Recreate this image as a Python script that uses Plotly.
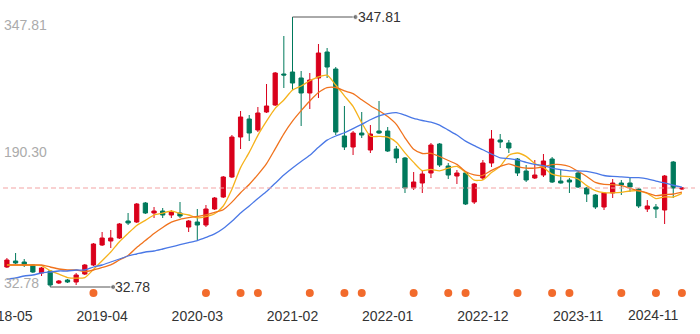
import plotly.graph_objects as go

# ---------------- data ----------------
months = [
    "2018-05", "2018-06", "2018-07", "2018-08", "2018-09", "2018-10", "2018-11", "2018-12",
    "2019-01", "2019-02", "2019-03", "2019-04", "2019-05", "2019-06", "2019-07", "2019-08",
    "2019-09", "2019-10", "2019-11", "2019-12", "2020-01", "2020-02", "2020-03", "2020-04",
    "2020-05", "2020-06", "2020-07", "2020-08", "2020-09", "2020-10", "2020-11", "2020-12",
    "2021-01", "2021-02", "2021-03", "2021-04", "2021-05", "2021-06", "2021-07", "2021-08",
    "2021-09", "2021-10", "2021-11", "2021-12", "2022-01", "2022-02", "2022-03", "2022-04",
    "2022-05", "2022-06", "2022-07", "2022-08", "2022-09", "2022-10", "2022-11", "2022-12",
    "2023-01", "2023-02", "2023-03", "2023-04", "2023-05", "2023-06", "2023-07", "2023-08",
    "2023-09", "2023-10", "2023-11", "2023-12", "2024-01", "2024-02", "2024-03", "2024-04",
    "2024-05", "2024-06", "2024-07", "2024-08", "2024-09", "2024-10", "2024-11",
]

open_ = [56.11, 63.11, 61.95, 58.45, 49.11, 51.45, 37.44, 40.95, 38.61, 47.95,
         58.45, 81.78, 86.45, 89.95, 109.79, 108.62, 130.79, 119.12, 121.45, 116.79,
         119.12, 102.78, 108.62, 105.12, 123.79, 137.79, 161.13, 207.79, 228.80, 215.96,
         236.97, 245.13, 281.30, 283.64, 276.64, 259.13, 276.64, 306.97, 287.14, 208.96,
         196.13, 212.46, 192.63, 214.80, 214.80, 193.79, 183.29, 148.29, 154.13, 165.79,
         199.63, 173.96, 162.29, 165.79, 131.95, 159.96, 177.46, 204.29, 200.79, 182.13,
         168.13, 159.96, 163.46, 182.13, 156.46, 157.63, 165.79, 148.29, 140.12, 126.12,
         142.46, 154.13, 154.13, 147.13, 123.79, 126.12, 122.62, 178.63, 147.13]
high = [66.61, 72.45, 65.45, 59.61, 56.11, 52.61, 40.95, 42.11, 49.11, 59.61,
        84.12, 96.95, 99.28, 107.45, 119.12, 130.79, 131.95, 126.12, 124.95, 122.62,
        131.95, 110.95, 123.79, 128.45, 137.79, 162.29, 210.13, 238.13, 233.46, 242.80,
        269.64, 283.64, 325.64, 347.81, 284.80, 282.47, 316.31, 311.64, 289.47, 243.97,
        214.80, 236.97, 221.80, 249.80, 219.46, 197.29, 184.46, 166.96, 169.29, 200.79,
        200.79, 177.46, 169.29, 166.96, 154.13, 180.96, 215.96, 211.30, 204.29, 183.29,
        175.13, 180.96, 187.96, 184.46, 169.29, 159.96, 166.96, 149.46, 141.29, 143.62,
        158.79, 157.63, 159.96, 148.29, 134.29, 129.62, 163.46, 179.80, 149.46]
low = [54.95, 59.61, 56.11, 49.11, 45.61, 32.78, 36.28, 37.44, 35.11, 46.78,
       57.28, 80.62, 78.28, 88.78, 105.12, 107.45, 117.95, 113.29, 113.29, 113.29,
       113.29, 96.95, 87.62, 102.78, 122.62, 136.62, 159.96, 193.79, 203.13, 213.63,
       235.80, 243.97, 264.97, 262.64, 220.63, 240.47, 253.30, 276.64, 210.13, 192.63,
       186.80, 206.63, 189.13, 211.30, 190.30, 177.46, 142.46, 145.96, 142.46, 159.96,
       172.79, 158.79, 152.96, 128.45, 129.62, 157.63, 172.79, 194.96, 189.13, 162.29,
       155.29, 158.79, 161.13, 154.13, 153.50, 142.46, 148.29, 131.95, 123.79, 122.62,
       136.62, 140.12, 143.62, 124.95, 120.29, 113.29, 106.29, 136.62, 145.96]
close = [64.28, 60.78, 58.45, 50.28, 54.95, 35.11, 39.78, 38.61, 46.78, 58.45,
         82.95, 89.95, 89.95, 106.29, 107.45, 129.62, 119.12, 121.45, 116.79, 120.29,
         115.62, 109.79, 105.12, 123.79, 136.62, 161.13, 207.79, 231.13, 212.46, 235.80,
         243.97, 282.47, 280.14, 270.80, 259.13, 274.30, 305.81, 289.47, 213.63, 196.13,
         212.46, 210.13, 211.30, 212.46, 191.46, 183.29, 148.29, 155.29, 164.63, 198.46,
         175.13, 163.46, 165.79, 129.62, 152.96, 177.46, 205.46, 201.96, 194.96, 165.79,
         157.63, 163.46, 179.80, 155.29, 154.13, 155.29, 149.46, 141.29, 126.12, 142.46,
         154.13, 151.79, 149.46, 127.29, 127.29, 123.79, 162.29, 148.29, 148.29]

ma5 = [58.45, 58.45, 58.45, 58.45, 57.75, 51.91, 47.71, 43.75, 43.05, 43.75,
       53.31, 63.35, 73.62, 85.52, 95.32, 104.65, 110.49, 116.79, 118.89, 121.45,
       118.65, 116.79, 113.52, 114.92, 118.19, 127.29, 146.89, 172.09, 189.83, 209.66,
       226.23, 241.17, 250.97, 262.64, 267.30, 273.37, 278.04, 279.90, 268.47, 255.87,
       243.50, 224.36, 208.73, 208.50, 207.56, 201.73, 189.36, 178.16, 168.59, 169.99,
       168.36, 171.39, 173.49, 166.49, 157.39, 157.86, 166.26, 173.49, 186.56, 189.13,
       185.16, 176.76, 172.33, 164.39, 162.06, 161.59, 158.79, 151.09, 145.26, 142.92,
       142.69, 143.16, 144.79, 145.03, 141.99, 135.92, 138.02, 137.79, 141.99]
ma10 = [58.45, 58.45, 58.45, 58.45, 58.45, 56.11, 53.78, 52.61, 52.61, 50.75,
        52.61, 55.53, 58.69, 64.29, 69.54, 78.98, 86.92, 95.21, 102.21, 108.39,
        111.65, 113.64, 115.16, 116.91, 119.82, 122.97, 131.84, 142.81, 152.38, 163.93,
        176.76, 194.03, 211.53, 226.24, 238.48, 249.80, 259.61, 265.44, 265.56, 261.59,
        258.44, 251.20, 244.32, 238.49, 231.72, 222.62, 206.86, 193.45, 188.55, 188.78,
        185.05, 180.38, 175.83, 167.54, 163.69, 163.11, 168.83, 173.49, 176.53, 173.26,
        171.51, 171.51, 172.91, 175.48, 175.60, 173.38, 167.78, 161.71, 154.83, 152.49,
        152.14, 150.98, 147.94, 145.15, 142.46, 139.31, 140.59, 141.29, 143.51]
ma20 = [42.11, 43.28, 45.61, 46.78, 49.11, 50.28, 51.45, 51.45, 52.61, 52.61,
        56.11, 58.45, 61.95, 65.45, 68.95, 71.28, 73.62, 74.78, 77.12, 79.57,
        82.13, 84.59, 86.93, 90.60, 94.68, 100.98, 109.38, 119.01, 127.30, 136.16,
        144.21, 153.84, 163.35, 171.58, 179.15, 186.39, 195.73, 204.13, 208.97, 212.76,
        217.60, 222.62, 227.93, 232.37, 235.10, 236.21, 233.24, 229.45, 227.06, 225.19,
        221.75, 215.79, 210.08, 203.02, 197.71, 192.87, 187.85, 183.47, 182.54, 181.02,
        178.28, 175.95, 174.37, 171.51, 169.65, 168.25, 168.31, 167.60, 165.68, 162.88,
        161.83, 161.25, 160.43, 160.32, 159.03, 156.35, 154.19, 151.50, 149.17]

event_months = ["2019-03", "2020-04", "2020-08", "2020-10", "2021-04", "2021-08",
                "2021-10", "2022-04", "2022-08", "2022-10", "2023-04", "2023-08",
                "2023-10", "2024-04", "2024-08", "2024-11"]

label_months = ["2018-05", "2019-04", "2020-03", "2021-02", "2022-01", "2022-12", "2023-11"]
last_label = "2024-11"

# ---------------- geometry ----------------
W, H = 700, 334
PH = 306                      # plot area height (px)
X0, X1 = -0.8, 80.09          # x range in category index units
PXU = W / (X1 - X0)           # px per category
vmin, vmax = min(low), max(high)
TOP_PX, BOT_PX = 17, 287
k = (BOT_PX - TOP_PX) / (vmax - vmin)
Y1 = vmax + TOP_PX / k
Y0 = vmin - (PH - BOT_PX) / k
dot_y = vmin - (293 - BOT_PX) / k

xs = list(range(len(months)))
idx = {m: i for i, m in enumerate(months)}

RED = "#d9001b"
GREEN = "#00795c"
FONT = "Liberation Sans, Arial, sans-serif"

fig = go.Figure()

fig.add_trace(go.Candlestick(
    x=xs, open=open_, high=high, low=low, close=close,
    increasing=dict(line=dict(color=RED, width=1), fillcolor=RED),
    decreasing=dict(line=dict(color=GREEN, width=1), fillcolor=GREEN),
    whiskerwidth=0, showlegend=False, hoverinfo="skip",
))

for vals, col in ((ma5, "#f6b21b"), (ma10, "#f0731e"), (ma20, "#4a78e6")):
    fig.add_trace(go.Scatter(
        x=xs, y=vals, mode="lines",
        line=dict(color=col, width=1.3, shape="spline", smoothing=0.6),
        showlegend=False, hoverinfo="skip",
    ))

# event dots
ev_x = [idx[m] for m in event_months]
fig.add_trace(go.Scatter(
    x=ev_x, y=[dot_y] * len(ev_x), mode="markers",
    marker=dict(color="#f26b2c", size=8, line=dict(width=0)),
    showlegend=False, hoverinfo="skip", cliponaxis=False,
))

# max / min markers
imax = high.index(vmax)
imin = low.index(vmin)
seg = 63 / PXU
for i, v in ((imax, vmax), (imin, vmin)):
    fig.add_trace(go.Scatter(
        x=[i, i + seg], y=[v, v], mode="lines+markers",
        line=dict(color="#555555", width=1),
        marker=dict(size=[0, 5], color="#555555"),
        showlegend=False, hoverinfo="skip", cliponaxis=False,
    ))
    fig.add_annotation(
        x=i + seg, y=v, xref="x", yref="y", text=f"{v:.2f}",
        showarrow=False, xanchor="left", yanchor="middle", xshift=1,
        borderpad=0, font=dict(family=FONT, size=14, color="#333333"),
    )

# last close dashed line
fig.add_shape(
    type="line", xref="paper", yref="y", x0=3 / W, x1=695 / W,
    y0=close[-1], y1=close[-1],
    line=dict(color="#f3a3a3", width=1, dash="5px,3px"),
)

# y labels (min / mid / max)
vmid = (vmin + vmax) / 2
for v, shift in ((vmax, -8), (vmid, 0), (vmin, 4.5)):
    fig.add_annotation(
        x=0, y=v, xref="paper", yref="y", text=f"{v:.2f}",
        showarrow=False, xanchor="left", yanchor="middle", xshift=3, yshift=shift,
        borderpad=0, font=dict(family=FONT, size=14, color="#ababab"),
    )

# last x label (kept inside the chart)
fig.add_annotation(
    x=idx[last_label], y=0, xref="x", yref="paper", text=last_label,
    showarrow=False, xanchor="right", yanchor="middle", xshift=-2, yshift=-9,
    borderpad=0, font=dict(family=FONT, size=14, color="#333333"),
)

fig.update_layout(
    width=W, height=H, template="none",
    margin=dict(l=0, r=0, t=0, b=H - PH, pad=0),
    paper_bgcolor="white", plot_bgcolor="white",
    showlegend=False, hovermode=False,
    xaxis=dict(
        range=[X0, X1], showgrid=False, zeroline=False, showline=False,
        ticks="", tickvals=[idx[m] for m in label_months], ticktext=label_months,
        tickfont=dict(family=FONT, size=14, color="#333333"),
        rangeslider=dict(visible=False), automargin=False,
        ticklabeloverflow="allow",
    ),
    yaxis=dict(
        range=[Y0, Y1], showgrid=False, zeroline=False, showline=False,
        showticklabels=False, ticks="", automargin=False,
    ),
)

fig.write_html("out.html")
